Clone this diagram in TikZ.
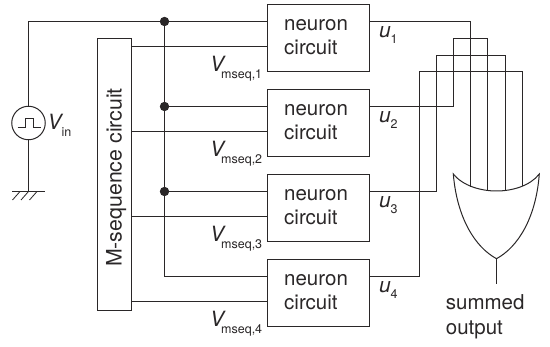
\documentclass[tikz,border=0pt]{standalone}
\usepackage{fontspec}
\setmainfont{TeX Gyre Heros}
\definecolor{ink}{HTML}{2A2728}
\tikzset{
  wire/.style={draw=ink,line width=1pt,line join=miter},
  nbox/.style={draw=ink,line width=1pt,minimum width=102pt,minimum height=67pt,inner sep=0pt,anchor=north west},
  lbl/.style={text=ink,inner sep=0pt,anchor=base west,font=\fontsize{20.5}{24.5}\selectfont},
  bigv/.style={text=ink,inner sep=0pt,anchor=base west,font=\fontsize{21}{24}\selectfont\itshape},
  subs/.style={text=ink,inner sep=0pt,anchor=base west,font=\fontsize{12.5}{14}\selectfont},
  jdot/.style={circle,fill=ink,draw=none,minimum size=9.4pt,inner sep=0pt},
  srcc/.style={circle,draw=ink,line width=1pt,minimum size=33.5pt,inner sep=0pt}
}
\begin{document}
\begin{tikzpicture}[x=1pt,y=-1pt]
\useasboundingbox (0,0) rectangle (550,347);
% neuron boxes
\node[nbox] (n1) at (266.5,4.5) {};
\node[nbox] (n2) at (266.5,89.5) {};
\node[nbox] (n3) at (266.5,174.5) {};
\node[nbox] (n4) at (266.5,259.5) {};
% M-sequence box
\node[draw=ink,line width=1pt,minimum width=34pt,minimum height=272pt,inner sep=0pt,anchor=north west] (ms) at (96.5,38.5) {};
\node[lbl,rotate=90,anchor=base,font=\fontsize{21.3}{24.5}\selectfont] (mst) at (121.7,177.5) {M-sequence circuit};
% source
\node[srcc] (src) at (28.5,123) {};
\coordinate (tl) at (28.5,21.5);
\coordinate (gnd) at (28.5,191.5);
\node[jdot] (d1) at (164.5,21.5) {};
\node[jdot] (d2) at (164.5,106.5) {};
\node[jdot] (d3) at (164.5,191.5) {};
\coordinate (d4) at (164.5,276.5);
% input wiring
\draw[wire] (src.north) -- (tl) -- (n1.west |- tl);
\draw[wire] (src.south) -- (gnd);
\draw[wire] (12,191.5) -- (45,191.5);
\draw[wire,line width=.8pt] (20,191.5) -- (12.5,200) (28.5,191.5) -- (21,200) (37,191.5) -- (29.5,200);
\draw[wire,line width=.9pt] (17.5,127.5) -- (25.5,127.5) -- (25.5,118.5) -- (33.5,118.5) -- (33.5,127.5) -- (41,127.5);
\draw[wire] (d1) -- (d4) -- (n4.west |- d4);
\draw[wire] (d2) -- (n2.west |- d2);
\draw[wire] (d3) -- (n3.west |- d3);
% M-sequence wires
\foreach \i/\y in {1/46.5,2/131.5,3/216.5,4/301.5}
  \draw[wire] (ms.east |- 0,\y) -- (n\i.west |- 0,\y);
% OR gate
\coordinate (gl) at (453.3,174);
\coordinate (gr) at (539.3,174);
\coordinate (ga) at (496.5,258.7);
\coordinate (gb) at (496.5,191);
\coordinate (go) at (496.5,284.3);
\draw[wire,line join=miter] (gl) .. controls (457,218) and (475,247) .. (ga) .. controls (518,247) and (536,218) .. (gr) .. controls (530,186) and (512,191) .. (gb) .. controls (481,191) and (463,186) .. (gl) -- cycle;
\draw[wire] (ga) -- (go);
% output wires
\draw[wire] (n1.east |- 0,21.5) -- (470.5,21.5) -- (470.5,187);
\draw[wire] (n2.east |- 0,106.5) -- (453.5,106.5) -- (453.5,38.5) -- (487.5,38.5) -- (487.5,190.5);
\draw[wire] (n3.east |- 0,191.5) -- (436.5,191.5) -- (436.5,55.5) -- (505.5,55.5) -- (505.5,190);
\draw[wire] (n4.east |- 0,276.5) -- (419.5,276.5) -- (419.5,71.5) -- (522.5,71.5) -- (522.5,186);
% neuron text and labels
\foreach \i/\d in {1/0,2/85,3/170,4/255}{
  \node[lbl] (na\i) at (284,30.7+\d) {neuron};
  \node[lbl] (nb\i) at (284,55+\d) {circuit};
  \node[bigv] (u\i) at (379,37.7+\d) {u};
  \node[subs] (us\i) at (390.5,44+\d) {\i};
  \node[bigv] (v\i) at (210,72+\d) {V};
  \node[subs] (vs\i) at (221,79+\d) {mseq,\i};
}
\node[bigv] (vin) at (47.5,130) {V};
\node[subs] (vins) at (61.5,136.7) {in};
\node[lbl] (sum) at (445.7,310) {summed};
\node[lbl] (out) at (445.7,335) {output};
\end{tikzpicture}
\end{document}
